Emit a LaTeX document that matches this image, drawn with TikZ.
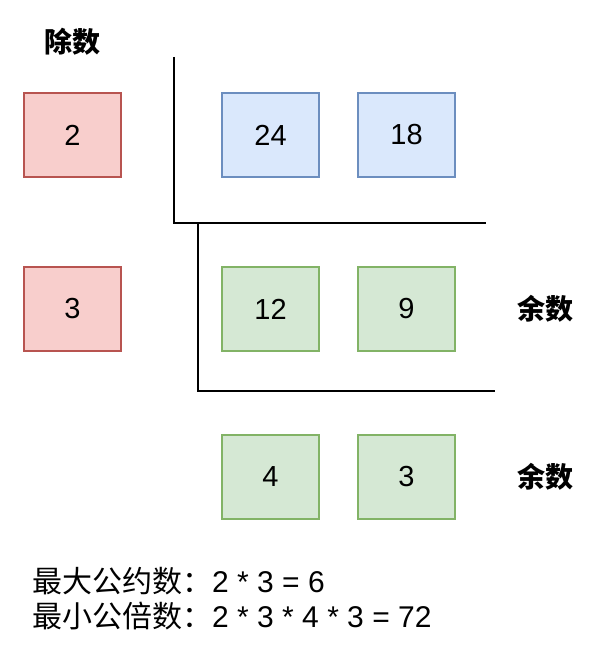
\documentclass[tikz,border=0pt]{standalone}
\usepackage{fontspec}
\setmainfont{Liberation Sans}
\newfontfamily\cjk{Noto Sans CJK SC}

\definecolor{redfill}{HTML}{F8CECC}
\definecolor{reddraw}{HTML}{B85450}
\definecolor{bluefill}{HTML}{DAE8FC}
\definecolor{bluedraw}{HTML}{6C8EBF}
\definecolor{greenfill}{HTML}{D5E8D4}
\definecolor{greendraw}{HTML}{82B366}

\begin{document}
\begin{tikzpicture}[
        x=1pt,
        y=-1pt,
        numbox/.style={draw, line width=1.4pt, minimum width=97pt, minimum height=84pt,
            inner sep=0pt, font=\fontsize{29}{32}\selectfont},
        divisor/.style={numbox, fill=redfill, draw=reddraw},
        dividend/.style={numbox, fill=bluefill, draw=bluedraw},
        rest/.style={numbox, fill=greenfill, draw=greendraw},
        tag/.style={font=\cjk\bfseries\fontsize{28}{30}\selectfont},
        result/.style={anchor=west, inner sep=0pt, font=\fontsize{30}{34}\selectfont}
    ]
    \useasboundingbox (0,0) rectangle (596,652);

    % ---------- 几何参数 ----------
    \def\colA{72.5}    % 除数列
    \def\colB{270.5}   % 第一列
    \def\colC{406.5}   % 第二列
    \def\rowA{135}     % 第一行
    \def\rowB{309}     % 第二行
    \def\rowC{477}     % 第三行

    % ---------- 除数 ----------
    \node[tag] (divlabel) at (\colA,42) {除数};
    \node[divisor] (d1) at (\colA,\rowA) {2};
    \node[divisor] (d2) at (\colA,\rowB) {3};

    % ---------- 被除数与余数 ----------
    \node[dividend] (n1) at (\colB,\rowA) {24};
    \node[dividend] (n2) at (\colC,\rowA) {18};

    \node[rest] (r1) at (\colB,\rowB) {12};
    \node[rest] (r2) at (\colC,\rowB) {9};

    \node[rest] (s1) at (\colB,\rowC) {4};
    \node[rest] (s2) at (\colC,\rowC) {3};

    \node[tag] (restlabelA) at (545,\rowB) {余数};
    \node[tag] (restlabelB) at (545,\rowC) {余数};

    % ---------- 短除号 ----------
    \draw[line width=2pt] (174,57) -- (174,223) -- (486,223);
    \draw[line width=2pt] (198,223) -- (198,391) -- (495,391);

    % ---------- 结果 ----------
    \node[result] (gcd) at (32,581) {{\cjk 最大公约数：}2 * 3 = 6};
    \node[result] (lcm) at (32,616) {{\cjk 最小公倍数：}2 * 3 * 4 * 3 = 72};

\end{tikzpicture}
\end{document}
